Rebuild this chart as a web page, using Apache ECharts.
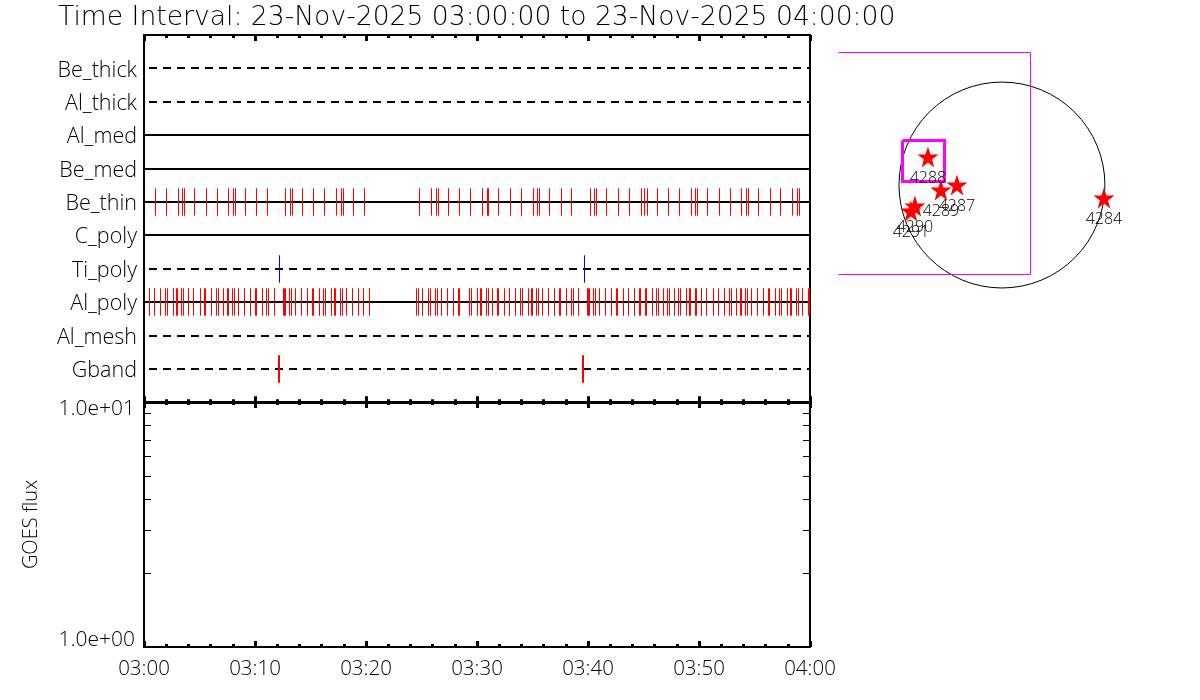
<!DOCTYPE html>
<html><head><meta charset="utf-8">
<script src="https://cdn.jsdelivr.net/npm/echarts@6/dist/echarts.min.js"></script>
<style>html,body{margin:0;background:#fff}#c{width:1200px;height:700px}</style></head>
<body><div id="c"></div>
<script>
const titleText = 'Time Interval: 23-Nov-2025 03:00:00 to 23-Nov-2025 04:00:00';
const rowLabels = ['Gband','Al_mesh','Al_poly','Ti_poly','C_poly','Be_thin','Be_med','Al_med','Al_thick','Be_thick'];
const dashedRows = ['Gband','Al_mesh','Ti_poly','Al_thick','Be_thick'];
const solidRows = ['Al_poly','C_poly','Be_thin','Be_med','Al_med'];
const timeTicks = ['03:00','03:10','03:20','03:30','03:40','03:50','04:00'];
const fluxLabels = {1:'1.0e+00',10:'1.0e+01'};
const fluxMinor = [2,3,4,5,6,7,8,9];
// event times, minutes after 03:00
const beThinRed = [1.04,2.03,3.11,3.47,3.65,4.55,5.63,6.62,7.61,8.06,8.24,9.14,10.14,11.13,12.75,13.20,13.38,14.28,15.27,16.26,17.34,17.79,17.97,18.87,19.86,
24.82,25.90,26.35,26.53,27.43,28.42,29.41,30.50,30.95,31.04,31.94,33.02,34.01,35.09,35.45,35.63,36.53,37.61,38.51,40.23,40.59,40.77,41.67,42.75,43.74,44.82,45.09,45.36,46.26,47.25,48.24,49.32,49.68,49.86,50.77,51.85,52.84,53.83,54.28,54.46,55.36,56.44,57.34,58.42,58.87,59.05];
const alPolyRed = [0.50,0.95,1.49,1.94,2.12,2.66,2.93,3.02,3.38,3.56,4.01,4.46,5.09,5.45,5.54,6.08,6.53,6.71,7.16,7.52,7.61,7.97,8.15,8.51,9.05,9.59,10.05,10.14,10.68,11.04,11.22,11.76,12.57,12.66,12.75,13.11,13.29,13.65,14.19,14.73,15.18,15.27,15.81,16.17,16.35,16.89,17.16,17.25,17.70,17.88,18.24,18.78,19.32,19.77,20.32,
24.55,24.73,25.09,25.63,25.81,26.26,26.44,26.80,27.34,27.88,28.33,28.42,29.32,29.50,30.05,30.32,30.41,30.86,31.04,31.40,31.85,31.94,32.48,32.93,33.47,33.92,34.10,34.64,34.91,35.00,35.36,35.54,35.90,36.44,36.98,37.43,37.52,38.06,38.51,38.69,39.14,39.95,40.05,40.14,40.50,40.68,41.04,41.58,42.12,42.57,42.66,43.20,43.65,44.19,44.64,44.73,45.18,45.27,45.81,46.17,46.35,46.80,47.16,47.34,47.79,48.15,48.33,48.87,49.14,49.23,49.68,49.77,50.23,50.68,51.31,51.76,52.30,52.75,52.93,53.38,53.74,53.83,54.19,54.37,54.73,55.27,55.81,56.26,56.35,56.89,57.25,57.43,57.97,58.24,58.33,58.78,58.96,59.32,59.86,59.95];
const tiPolyBlue = [12.21,39.68];
const gbandRed = [12.16,39.55];
// solar map, arcsec
const regionNames = ['4288','4289','4287','4290','4291','4284'];
const regionX = [-697,-575,-424,-820,-857,961];
const regionY = [264,-47,0,-198,-245,-122];
const sunRadius = [970];
const fovX = [-1540,272,272,-1540];
const fovY = [1253,1253,-845,-845];
const boxX = [-933,-537,-537,-933,-933];
const boxY = [424,424,33,33,424];

const SANS = '"Open Sans"';
const LIGHT = 300;
const rowNum = n => rowLabels.indexOf(n)+1;
const zip = (a,b) => a.map((v,i)=>[v,b[i]]);

function eventSeries(times,row,color,w){
  return {type:'custom',xAxisIndex:0,yAxisIndex:0,z:5,silent:true,clip:true,
    data:times.map(t=>[t,rowNum(row)]),
    encode:{x:0,y:1},
    renderItem:(p,api)=>{
      const c=api.coord([api.value(0),api.value(1)]);
      const h=api.size([0,0.41])[1];
      const x=w%2?Math.floor(c[0])+0.5:Math.round(c[0]);
      const y=Math.round(c[1]);
      return {type:'line',shape:{x1:x,y1:y-h,x2:x,y2:y+h},style:{stroke:color,lineWidth:w}};
    }};
}
function rowSeries(names,dash){
  return {type:'custom',xAxisIndex:0,yAxisIndex:0,z:3,silent:true,clip:true,
    data:names.map(n=>[0,rowNum(n),60]),
    encode:{x:0,y:1},
    renderItem:(p,api)=>{
      const a=api.coord([api.value(0),api.value(1)]);
      const b=api.coord([api.value(2),api.value(1)]);
      const y=Math.round(a[1]);
      const style={stroke:'#000',lineWidth:2};
      if(dash){style.lineDash=[8,6];style.lineDashOffset=9;}
      return {type:'line',shape:{x1:a[0],y1:y,x2:b[0],y2:y},style};
    }};
}
function outlineSeries(xs,ys,w){
  return {type:'custom',xAxisIndex:4,yAxisIndex:4,silent:true,clip:false,z:3,
    data:zip(xs,ys),encode:{x:0,y:1},
    renderItem:(p,api)=>{
      if(p.dataIndex!==0) return null;
      const snap=v=>w%2?Math.floor(v)+0.5:Math.round(v);
      const pts=xs.map((x,i)=>{const c=api.coord([x,ys[i]]);return [snap(c[0]),snap(c[1])];});
      return {type:'polyline',shape:{points:pts},style:{fill:'none',stroke:'#ff00ff',lineWidth:w}};
    }};
}
function xAx(grid,pos,showLabels){
  return {type:'value',gridIndex:grid,position:pos,min:0,max:60,interval:10,
    axisLine:{show:true,onZero:false,lineStyle:{color:'#000',width:2}},
    axisTick:{show:true,inside:true,length:6,lineStyle:{color:'#000',width:3}},
    minorTick:{show:true,splitNumber:5,length:3,lineStyle:{color:'#000',width:3}},
    splitLine:{show:false},minorSplitLine:{show:false},
    axisLabel:{show:showLabels,margin:12,fontFamily:SANS,fontWeight:LIGHT,fontSize:20.5,color:'#000',
      showMinLabel:true,showMaxLabel:true,hideOverlap:false,
      formatter:v=>timeTicks[v/10]}};
}
function logAx(pos,labels){
  return {type:'log',gridIndex:1,position:pos,min:1,max:10,logBase:10,
    axisLine:{show:true,onZero:false,lineStyle:{color:'#000',width:2}},
    axisTick:{show:true,inside:true,length:7,customValues:fluxMinor,lineStyle:{color:'#000',width:1}},
    minorTick:{show:false},splitLine:{show:false},
    name:labels?'GOES flux':'',nameLocation:'middle',nameRotate:90,nameGap:103,
    nameTextStyle:{fontFamily:SANS,fontWeight:LIGHT,fontSize:20,color:'#000'},
    axisLabel:{show:labels,margin:9,fontFamily:SANS,fontWeight:LIGHT,fontSize:21,lineHeight:14,color:'#000',
      customValues:[1,10],verticalAlignMinLabel:'bottom',verticalAlignMaxLabel:'top',
      formatter:v=>fluxLabels[Math.round(v)]||''}};
}
const catAx = (pos,labels)=>({type:'value',gridIndex:0,position:pos,min:0,max:11,interval:1,
    axisLine:{show:true,onZero:false,lineStyle:{color:'#000',width:2}},
    axisTick:{show:false},splitLine:{show:false},
    axisLabel:{show:labels,margin:7,fontFamily:SANS,fontWeight:LIGHT,fontSize:21.5,color:'#000',
      verticalAlign:'top',lineHeight:4,showMinLabel:false,showMaxLabel:false,formatter:v=>rowLabels[v-1]||''}});

const option={
  animation:false,backgroundColor:'#fff',
  title:{text:titleText,left:53,top:0,textStyle:{fontFamily:'"DejaVu Sans"',fontWeight:200,fontSize:26.6,color:'#000'}},
  grid:[
    {left:144,top:35,width:666,height:367.3},
    {left:144,top:402,width:666,height:245},
    {left:821.5,top:25.8,width:371.5,height:276}
  ],
  xAxis:[
    xAx(0,'bottom',false),xAx(0,'top',false),
    xAx(1,'bottom',true),xAx(1,'top',false),
    {type:'value',gridIndex:2,min:-1700,max:1800,show:false}
  ],
  yAxis:[
    catAx('left',true),catAx('right',false),
    logAx('left',true),logAx('right',false),
    {type:'value',gridIndex:2,min:-1100,max:1500,show:false}
  ],
  series:[
    rowSeries(solidRows,false),rowSeries(dashedRows,true),
    eventSeries(beThinRed,'Be_thin','#ff0000',1),
    eventSeries(alPolyRed,'Al_poly','#ff0000',1),
    eventSeries(tiPolyBlue,'Ti_poly','#0000ff',1),
    eventSeries(gbandRed,'Gband','#ff0000',2),
    {type:'line',xAxisIndex:2,yAxisIndex:2,data:[],silent:true},
    {type:'custom',xAxisIndex:4,yAxisIndex:4,silent:true,clip:false,z:2,
      data:[[0,0,sunRadius[0]]],encode:{x:0,y:1},
      renderItem:(p,api)=>{
        const c=api.coord([api.value(0),api.value(1)]);
        const r=api.size([api.value(2),0])[0];
        return {type:'circle',shape:{cx:c[0],cy:c[1],r},style:{fill:'none',stroke:'#000',lineWidth:1}};
      }},
    outlineSeries(fovX,fovY,1),
    outlineSeries(boxX,boxY,3),
    {type:'scatter',xAxisIndex:4,yAxisIndex:4,silent:true,z:4,
      data:regionNames.map((n,i)=>({name:n,value:[regionX[i],regionY[i]]})),
      symbol:'path://M50 0L61.8 35.3L98.9 35.3L68.9 57.3L79.4 92.7L50 71L20.6 92.7L31.1 57.3L1.1 35.3L38.2 35.3Z',
      symbolSize:21,itemStyle:{color:'#ff0000',opacity:1},
      label:{show:true,position:'bottom',distance:3,formatter:'{b}',fontFamily:SANS,fontWeight:LIGHT,fontSize:16,color:'#000'},
      labelLayout:{hideOverlap:false}}
  ]
};
const chart=echarts.init(document.getElementById('c'),null,{renderer:'canvas'});
chart.setOption(option);
</script></body></html>
